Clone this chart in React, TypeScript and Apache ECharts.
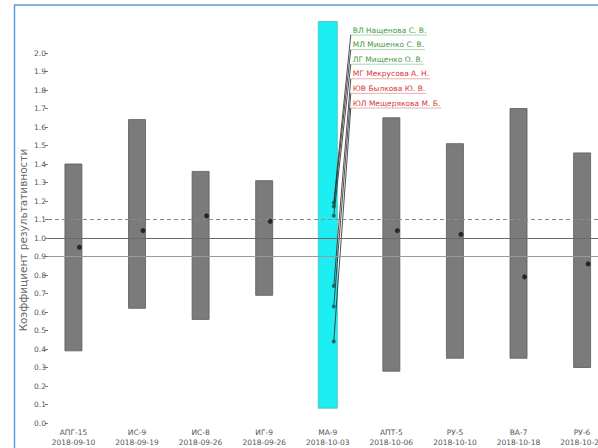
import React, { useEffect, useRef } from 'react';
import * as echarts from 'echarts';

const categories = ['АПГ-15', 'ИС-9', 'ИС-8', 'ИГ-9', 'МА-9', 'АПТ-5', 'РУ-5', 'ВА-7', 'РУ-6'];
const dates = ['2018-09-10', '2018-09-19', '2018-09-26', '2018-09-26', '2018-10-03', '2018-10-06', '2018-10-10', '2018-10-18', '2018-10-24'];
const rangeLow = [0.39, 0.62, 0.56, 0.69, 0.08, 0.28, 0.35, 0.35, 0.30];
const rangeHigh = [1.40, 1.64, 1.36, 1.31, 2.17, 1.65, 1.51, 1.70, 1.46];
const pointValues: (number | null)[] = [0.95, 1.04, 1.12, 1.09, null, 1.04, 1.02, 0.79, 0.86];
const highlightCategory = 'МА-9';

const annNames = [
  'ВЛ Нащенова С. В.',
  'МЛ Мишенко С. В.',
  'ЛГ Мищенко О. В.',
  'МГ Мекрусова А. Н.',
  'ЮВ Былкова Ю. В.',
  'ЮЛ Мещерякова М. Б.',
];
const annValues = [1.19, 1.17, 1.12, 0.74, 0.63, 0.44];
const annStatus = ['good', 'good', 'good', 'bad', 'bad', 'bad'];

const yTickLabels = ['0.0', '0.1', '0.2', '0.3', '0.4', '0.5', '0.6', '0.7', '0.8', '0.9', '1.0',
  '1.1', '1.2', '1.3', '1.4', '1.5', '1.6', '1.7', '1.8', '1.9', '2.0'];
const refLevels = [1.1, 1.0, 0.9];
const yAxisTitle = 'Коэффициент результативности';

const FONT = 'DejaVu Sans';

export default function App() {
  const ref = useRef<HTMLDivElement>(null);
  useEffect(() => {
    document.body.style.margin = '0';
    const chart = echarts.init(ref.current!, null, { renderer: 'svg' });
    const hiIdx = categories.indexOf(highlightCategory);
    const canvas = document.createElement('canvas');
    const ctx = canvas.getContext('2d')!;
    const annFontSize = 7.5;
    ctx.font = `${annFontSize}px "${FONT}"`;
    const refStyles = [
      { type: [4, 3], color: '#8a8a8a', width: 1 },
      { type: 'solid', color: '#6a6a6a', width: 1.2 },
      { type: 'solid', color: '#9a9a9a', width: 1 },
    ];

    chart.setOption({
      animation: false,
      textStyle: { fontFamily: FONT },
      grid: { left: 48, right: 0, top: 16, bottom: 25, outerBoundsMode: 'none', containLabel: false },
      xAxis: {
        type: 'value',
        min: -0.4,
        max: 8.25,
        axisLine: { show: false, onZero: false },
        axisTick: { show: false },
        splitLine: { show: false },
        axisLabel: {
          customValues: categories.map((_, i) => i),
          formatter: (v: number) => `${categories[v]}\n${dates[v]}`,
          fontSize: 7.5,
          color: '#555',
          lineHeight: 10,
          margin: 4,
          fontFamily: FONT,
          hideOverlap: false,
        },
      },
      yAxis: {
        type: 'value',
        min: 0,
        max: 2.2,
        axisLine: { show: false, onZero: false },
        splitLine: { show: false },
        axisTick: { show: true, length: 3, customValues: yTickLabels.map(Number), lineStyle: { color: '#777' } },
        axisLabel: {
          customValues: yTickLabels.map(Number),
          formatter: (v: number) => v.toFixed(1),
          fontSize: 7.5,
          color: '#555',
          margin: 2,
          fontFamily: FONT,
        },
      },
      graphic: [
        {
          type: 'rect',
          shape: { x: 14.5, y: 5, width: 800, height: 800 },
          style: { fill: 'none', stroke: '#5b9bd5', lineWidth: 1.5 },
          silent: true,
          z: 0,
        },
        {
          type: 'text',
          x: 23,
          y: 240,
          rotation: Math.PI / 2,
          style: {
            text: yAxisTitle,
            fontSize: 10.5,
            fill: '#6a6a6a',
            align: 'center',
            verticalAlign: 'middle',
            fontFamily: FONT,
          },
        },
      ],
      series: [
        {
          type: 'line',
          data: [],
          z: 1,
          markLine: {
            silent: true,
            symbol: 'none',
            label: { show: false },
            data: refLevels.map((lv, i) => ({ yAxis: lv, lineStyle: refStyles[i] })),
          },
        },
        {
          type: 'custom',
          z: 2,
          encode: { x: 0, y: [1, 2] },
          data: categories.map((_, i) => [i, rangeLow[i], rangeHigh[i]]),
          renderItem: (params: any, api: any) => {
            const x = api.value(0);
            const pLo = api.coord([x, api.value(1)]);
            const pHi = api.coord([x, api.value(2)]);
            const hl = categories[x] === highlightCategory;
            const w = hl ? 19 : 17;
            return {
              type: 'rect',
              shape: { x: pLo[0] - w / 2, y: pHi[1], width: w, height: pLo[1] - pHi[1] },
              style: {
                fill: hl ? '#1ceef2' : '#7b7b7b',
                stroke: hl ? '#44bcbc' : '#5c5c5c',
                lineWidth: 0.8,
              },
            };
          },
        },
        {
          type: 'scatter',
          z: 4,
          symbol: 'circle',
          symbolSize: 5,
          symbolOffset: [6, 0],
          itemStyle: { color: '#111' },
          data: pointValues.map((v, i) => (v == null ? null : [i, v])).filter((d) => d != null),
        },
        {
          type: 'custom',
          z: 3,
          encode: { x: 0, y: 1 },
          data: annValues.map((v, i) => [hiIdx, v, i]),
          renderItem: (params: any, api: any) => {
            const i = api.value(2);
            const p = api.coord([api.value(0), api.value(1)]);
            const cs = params.coordSys;
            const dotX = p[0] + 6;
            const lx = p[0] + 23;
            const ly = cs.y + 14 + i * 14.6;
            const color = annStatus[i] === 'good' ? '#3f9a3f' : '#d23a3a';
            const tw = ctx.measureText(annNames[i]).width;
            return {
              type: 'group',
              children: [
                {
                  type: 'polyline',
                  shape: { points: [[dotX, p[1]], [lx, ly + 5]] },
                  style: { stroke: '#222', fill: null, lineWidth: 0.8 },
                },
                {
                  type: 'line',
                  shape: { x1: lx, y1: ly + 5, x2: lx + tw + 3, y2: ly + 5 },
                  style: { stroke: color, lineWidth: 0.6, opacity: 0.7 },
                },
                {
                  type: 'text',
                  style: {
                    text: annNames[i],
                    x: lx + 2,
                    y: ly,
                    fill: color,
                    fontSize: annFontSize,
                    fontFamily: FONT,
                    verticalAlign: 'middle',
                    align: 'left',
                  },
                },
              ],
            };
          },
        },
        {
          type: 'scatter',
          z: 4,
          symbol: 'circle',
          symbolSize: 4,
          symbolOffset: [6, 0],
          itemStyle: { color: '#1d4d4d' },
          data: annValues.map((v) => [hiIdx, v]),
        },
      ],
    });
    return () => chart.dispose();
  }, []);
  return <div ref={ref} style={{ position: 'absolute', left: 0, top: 0, width: 598, height: 448 }} />;
}
